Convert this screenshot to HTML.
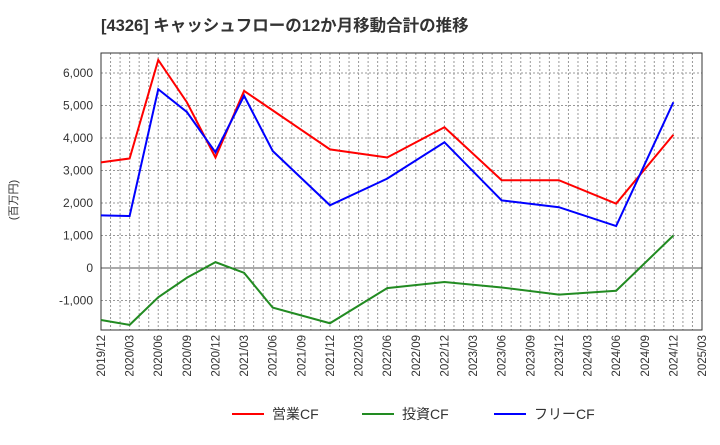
<!DOCTYPE html>
<html><head><meta charset="utf-8"><style>
body{margin:0;background:#fff;}
text{font-family:"Liberation Sans","Noto Sans CJK JP",sans-serif;}
</style></head><body>
<svg id="c" width="720" height="440" xmlns="http://www.w3.org/2000/svg">
<text x="101" y="31" font-size="16.5" font-weight="bold" fill="#333">[4326]  キャッシュフローの12か月移動合計の推移</text>
<text transform="translate(17,200) rotate(-90)" font-size="11" fill="#333" text-anchor="middle">(百万円)</text>
<g id="grid"></g><g id="axes"></g><g id="series"></g><g id="legend"></g>
</svg>
<script>
const dates=["2019/12","2020/03","2020/06","2020/09","2020/12","2021/03","2021/06","2021/12","2022/06","2022/12","2023/06","2023/12","2024/06","2024/12"];
const opCF=[3250,3370,6400,5100,3400,5450,4850,3650,3400,4330,2700,2700,1980,4100];
const invCF=[-1600,-1750,-900,-300,180,-150,-1220,-1700,-620,-430,-600,-820,-700,1000];
const freeCF=[1620,1600,5500,4800,3560,5300,3600,1930,2750,3870,2080,1870,1290,5100];
const xTicks=["2019/12","2020/03","2020/06","2020/09","2020/12","2021/03","2021/06","2021/09","2021/12","2022/03","2022/06","2022/09","2022/12","2023/03","2023/06","2023/09","2023/12","2024/03","2024/06","2024/09","2024/12","2025/03"];
const yTicks=[-1000,0,1000,2000,3000,4000,5000,6000];
const NS="http://www.w3.org/2000/svg";
const L=101,R=702,T=53,B=330;
function mi(d){const[y,m]=d.split("/").map(Number);return y*12+m;}
const m0=mi("2019/12"),m1=mi("2025/03");
const X=d=>L+(mi(d)-m0)/(m1-m0)*(R-L);
const Y=v=>268-v*0.0325;
function mk(p,tag,a){const e=document.createElementNS(NS,tag);for(const k in a)e.setAttribute(k,a[k]);p.appendChild(e);return e;}
const g=document.getElementById("grid"),ax=document.getElementById("axes"),s=document.getElementById("series"),lg=document.getElementById("legend");
for(let m=m0+1;m<m1;m++){const x=L+(m-m0)/(m1-m0)*(R-L);const e=mk(g,"line",{x1:x,x2:x,y1:T,y2:B,stroke:"#999","stroke-dasharray":"2,2","stroke-width":1});

}
yTicks.forEach(v=>{const y=Y(v);const e=mk(g,"line",{x1:L,x2:R,y1:y,y2:y,stroke:v===0?"#555":"#999","stroke-dasharray":v===0?"":"2,2","stroke-width":1});


const t=mk(ax,"text",{x:L-8,y:y+4,"font-size":12,fill:"#333","text-anchor":"end"});t.textContent=v.toLocaleString("en-US");

});
const fr=mk(ax,"rect",{x:L,y:T,width:R-L,height:B-T,fill:"none",stroke:"#333","stroke-width":1});


xTicks.forEach(d=>{const x=X(d);const t=mk(ax,"text",{transform:`translate(${x+4},${B+5}) rotate(-90)`,"font-size":11.5,fill:"#333","text-anchor":"end"});t.textContent=d;

});
[[opCF,"#f00","operating-cf-line"],[invCF,"#228b22","investing-cf-line"],[freeCF,"#00f","free-cf-line"]].forEach(([arr,c,n])=>{
const p=mk(s,"polyline",{points:arr.map((v,i)=>X(dates[i])+","+Y(v)).join(" "),fill:"none",stroke:c,"stroke-width":2});

});
[["営業CF","#f00",232],["投資CF","#228b22",362],["フリーCF","#00f",494]].forEach(([t,c,x])=>{
const l=mk(lg,"line",{x1:x,x2:x+32,y1:414,y2:414,stroke:c,"stroke-width":2});


const e=mk(lg,"text",{x:x+40,y:419,"font-size":14,fill:"#333"});e.textContent=t;

});
</script>
</body></html>
